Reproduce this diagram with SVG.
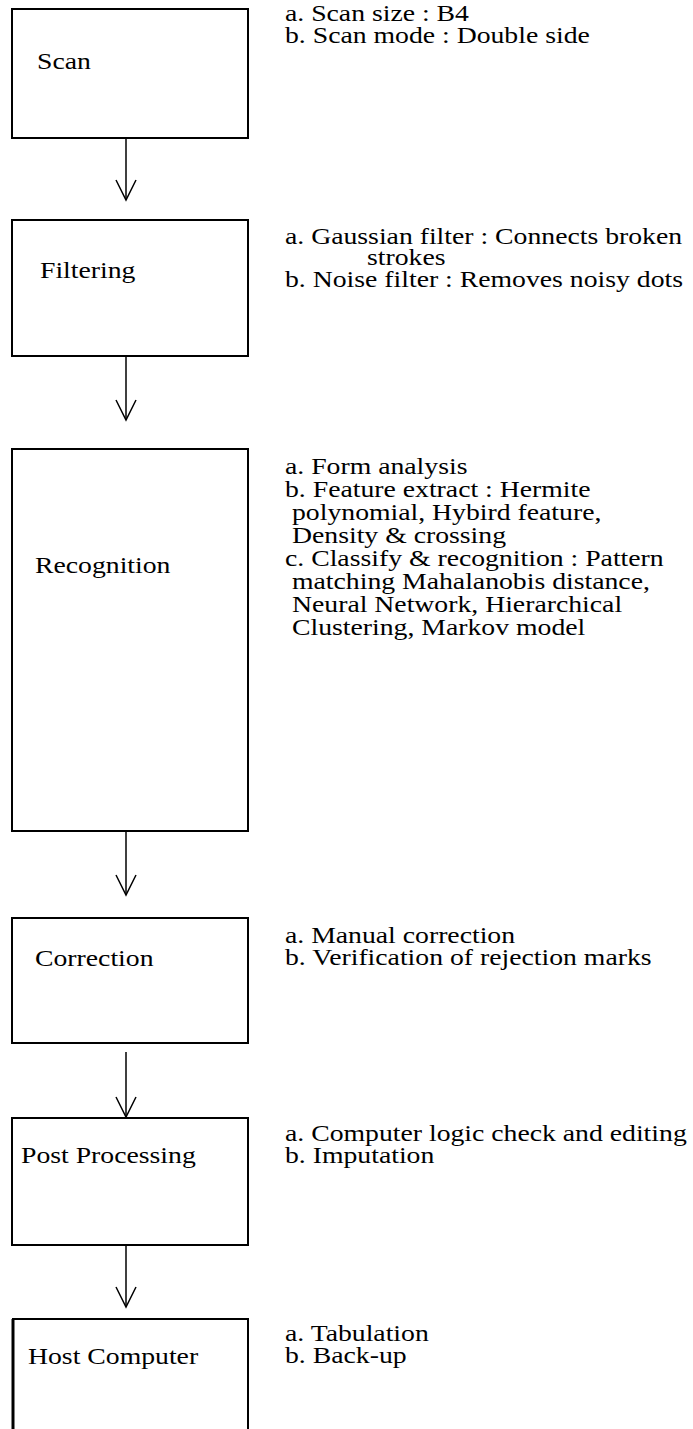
<svg xmlns="http://www.w3.org/2000/svg" width="693" height="1429" viewBox="0 0 693 1429">
<defs>
<style>
.box{fill:#fff;stroke:#000;stroke-width:2}
.t{font-family:"Liberation Serif","Times New Roman",serif;font-size:23.5px;fill:#000}
.c{stroke:#000;stroke-width:1.5;fill:none}
</style>
<marker id="v" markerUnits="userSpaceOnUse" markerWidth="24" markerHeight="26" viewBox="-22 -12 24 24" refX="0" refY="0" orient="auto">
<path d="M-20,-10 L0,0 L-20,10" fill="none" stroke="#000" stroke-width="1.5"/>
</marker>
</defs>
<rect width="693" height="1429" fill="#fff"/>
<g id="connectors">
<line class="c" x1="126" y1="134" x2="126" y2="200" marker-end="url(#v)"/>
<line class="c" x1="126" y1="357" x2="126" y2="420" marker-end="url(#v)"/>
<line class="c" x1="126" y1="832" x2="126" y2="895" marker-end="url(#v)"/>
<line class="c" x1="126" y1="1052" x2="126" y2="1117" marker-end="url(#v)"/>
<line class="c" x1="126" y1="1246" x2="126" y2="1307" marker-end="url(#v)"/>
</g>
<g id="scan">
<rect class="box" x="12" y="9" width="236" height="129"/>
<text class="t" transform="translate(37 69) scale(1.18 1)">Scan</text>
<text class="t" transform="translate(285 21) scale(1.18 1)">a. Scan size : B4</text>
<text class="t" transform="translate(285 43) scale(1.18 1)">b. Scan mode : Double side</text>
</g>
<g id="filtering">
<rect class="box" x="12" y="220" width="236" height="136"/>
<text class="t" transform="translate(40 278) scale(1.18 1)">Filtering</text>
<text class="t" transform="translate(285 244) scale(1.18 1)">a. Gaussian filter : Connects broken</text>
<text class="t" transform="translate(367 265) scale(1.18 1)">strokes</text>
<text class="t" transform="translate(285 287) scale(1.18 1)">b. Noise filter : Removes noisy dots</text>
</g>
<g id="recognition">
<rect class="box" x="12" y="449" width="236" height="382"/>
<text class="t" transform="translate(35 573) scale(1.18 1)">Recognition</text>
<text class="t" transform="translate(285 474) scale(1.18 1)">a. Form analysis</text>
<text class="t" transform="translate(285 497) scale(1.18 1)">b. Feature extract : Hermite</text>
<text class="t" transform="translate(292 520) scale(1.18 1)">polynomial, Hybird feature,</text>
<text class="t" transform="translate(292 543) scale(1.18 1)">Density &amp; crossing</text>
<text class="t" transform="translate(285 566) scale(1.18 1)">c. Classify &amp; recognition : Pattern</text>
<text class="t" transform="translate(292 589) scale(1.18 1)">matching Mahalanobis distance,</text>
<text class="t" transform="translate(292 612) scale(1.18 1)">Neural Network, Hierarchical</text>
<text class="t" transform="translate(292 635) scale(1.18 1)">Clustering, Markov model</text>
</g>
<g id="correction">
<rect class="box" x="12" y="918" width="236" height="125"/>
<text class="t" transform="translate(35 966) scale(1.18 1)">Correction</text>
<text class="t" transform="translate(285 943) scale(1.18 1)">a. Manual correction</text>
<text class="t" transform="translate(285 965) scale(1.18 1)">b. Verification of rejection marks</text>
</g>
<g id="post-processing">
<rect class="box" x="12" y="1118" width="236" height="127"/>
<text class="t" transform="translate(21 1163) scale(1.18 1)">Post Processing</text>
<text class="t" transform="translate(285 1141) scale(1.18 1)">a. Computer logic check and editing</text>
<text class="t" transform="translate(285 1163) scale(1.18 1)">b. Imputation</text>
</g>
<g id="host-computer">
<path d="M13,1430 V1319 H248 V1430" fill="#fff" stroke="#000" stroke-width="2"/>
<line x1="13" y1="1319" x2="13" y2="1429" stroke="#000" stroke-width="3"/>
<text class="t" transform="translate(28 1364) scale(1.18 1)">Host Computer</text>
<text class="t" transform="translate(285 1341) scale(1.18 1)">a. Tabulation</text>
<text class="t" transform="translate(285 1363) scale(1.18 1)">b. Back-up</text>
</g>
</svg>
